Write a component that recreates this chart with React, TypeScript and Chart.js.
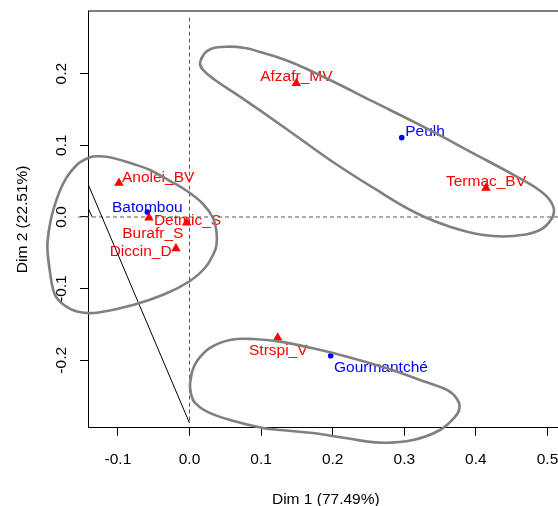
import React, { useEffect, useRef } from "react";
import { Chart, registerables } from "chart.js";
Chart.register(...registerables);

// ---- data (CA biplot, Dim 1 / Dim 2) ----
const speciesNames = ["Afzafr_MV", "Termac_BV", "Anolei_BV", "Burafr_S", "Detmic_S", "Diccin_D", "Strspi_V"];
const speciesDim1 = [0.1492, 0.4141, -0.0985, -0.0566, -0.0039, -0.0189, 0.1232];
const speciesDim2 = [0.1865, 0.0405, 0.0475, -0.0010, -0.0080, -0.0440, -0.1685];

const groupNames = ["Peulh", "Batombou", "Gourmantché"];
const groupDim1 = [0.2964, -0.0589, 0.1972];
const groupDim2 = [0.1107, 0.0070, -0.1936];

const xTickValues = [-0.1, 0.0, 0.1, 0.2, 0.3, 0.4, 0.5];
const yTickValues = [-0.2, -0.1, 0.0, 0.1, 0.2];
const xTitle = "Dim 1 (77.49%)";
const yTitle = "Dim 2 (22.51%)";

// confidence outlines
const outlineWestX = [-0.1985, -0.1967, -0.1902, -0.1763, -0.1575, -0.1390, -0.1250, -0.1068, -0.0789, -0.0552, -0.0272, -0.0035, 0.0189, 0.0328, 0.0377, 0.0377, 0.0335, 0.0216, 0.0007, -0.0342, -0.0789, -0.1292, -0.1571, -0.1753, -0.1878, -0.1948];
const outlineWestY = [-0.0433, -0.0209, 0.0098, 0.0470, 0.0726, 0.0833, 0.0847, 0.0823, 0.0740, 0.0656, 0.0502, 0.0363, 0.0181, -0.0014, -0.0209, -0.0391, -0.0516, -0.0712, -0.0893, -0.1075, -0.1228, -0.1336, -0.1319, -0.1228, -0.1089, -0.0775];

const outlineNorthX = [0.0147, 0.0203, 0.0314, 0.0520, 0.0775, 0.0985, 0.1404, 0.1962, 0.2567, 0.3265, 0.3964, 0.4570, 0.4941, 0.5081, 0.5063, 0.4895, 0.4522, 0.4103, 0.3638, 0.3173, 0.2615, 0.1962, 0.1310, 0.0705, 0.0356, 0.0189];
const outlineNorthY = [0.2149, 0.2275, 0.2352, 0.2377, 0.2359, 0.2303, 0.2167, 0.1912, 0.1609, 0.1260, 0.0889, 0.0562, 0.0331, 0.0144, -0.0014, -0.0181, -0.0265, -0.0251, -0.0135, 0.0052, 0.0377, 0.0796, 0.1260, 0.1679, 0.1912, 0.2052];

const outlineSouthX = [0.0007, 0.0035, 0.0105, 0.0286, 0.0566, 0.0887, 0.1264, 0.1725, 0.2200, 0.2758, 0.3219, 0.3596, 0.3736, 0.3771, 0.3708, 0.3499, 0.3122, 0.2661, 0.2200, 0.1725, 0.1264, 0.1027, 0.0566, 0.0244, 0.0077, 0.0021];
const outlineSouthY = [-0.2345, -0.2163, -0.2010, -0.1828, -0.1717, -0.1703, -0.1740, -0.1833, -0.1950, -0.2112, -0.2275, -0.2414, -0.2540, -0.2666, -0.2791, -0.2973, -0.3112, -0.3150, -0.3089, -0.3015, -0.2973, -0.2945, -0.2833, -0.2717, -0.2596, -0.2470];

// thin black segments
const segmentAX = [-0.1418, 0.0];
const segmentAY = [0.0461, -0.2875];
const segmentBX = [-0.1418, -0.1362];
const segmentBY = [0.0130, 0.0004];

// axis limits
const xMin = -0.14176, xMax = 0.5225;
const yMin = -0.2941, yMax = 0.2875;
const hLineX = [-0.1557, xMax];
const vLineY = [0.2782, -0.2857];

// label placement (style)
const speciesLabelPlace: Record<string, [CanvasTextAlign, number, number]> = {
  Afzafr_MV: ["center", 0, -8],
  Termac_BV: ["center", 0, -7.5],
  Anolei_BV: ["left", 3, -6.5],
  Burafr_S: ["center", 3.8, 14.5],
  Detmic_S: ["center", 0.8, -3],
  Diccin_D: ["right", -4.3, 1.5],
  Strspi_V: ["center", 0.6, 12],
};
const groupLabelPlace: Record<string, [CanvasTextAlign, number, number]> = {
  Peulh: ["left", 3.5, -6.7],
  Batombou: ["center", 0, -5.3],
  "Gourmantché": ["left", 3.3, 11],
};

const FONT = '15.5px "Liberation Sans", Arial, sans-serif';
const RED = "#ff0000";
const BLUE = "#0000ff";

function closedLoop(xs: number[], ys: number[]) {
  const pts = xs.map((x, i) => ({ x, y: ys[i] }));
  const n = pts.length;
  return [pts[n - 1], ...pts, pts[0], pts[1]];
}
function seg(xs: number[], ys: number[]) {
  return xs.map((x, i) => ({ x, y: ys[i] }));
}

const textPlugin = {
  id: "rtext",
  beforeDatasetsDraw(chart: any) {
    const ctx = chart.ctx;
    const xs = chart.scales.x;
    const ys = chart.scales.y;
    ctx.save();
    ctx.font = FONT;
    ctx.textBaseline = "alphabetic";
    speciesNames.forEach((name, i) => {
      const p = speciesLabelPlace[name];
      ctx.fillStyle = RED;
      ctx.textAlign = p[0];
      ctx.fillText(name, xs.getPixelForValue(speciesDim1[i]) + p[1], ys.getPixelForValue(speciesDim2[i]) + p[2] + 5.5);
    });
    groupNames.forEach((name, i) => {
      const p = groupLabelPlace[name];
      ctx.fillStyle = BLUE;
      ctx.textAlign = p[0];
      ctx.fillText(name, xs.getPixelForValue(groupDim1[i]) + p[1], ys.getPixelForValue(groupDim2[i]) + p[2] + 5.5);
    });
    ctx.restore();
  },
  afterDraw(chart: any) {
    const ctx = chart.ctx;
    const area = chart.chartArea;
    const xs = chart.scales.x;
    const ys = chart.scales.y;
    ctx.save();
    // top border
    ctx.strokeStyle = "#000";
    ctx.lineWidth = 1;
    ctx.beginPath();
    ctx.moveTo(area.left, area.top);
    ctx.lineTo(chart.width, area.top);
    ctx.stroke();

    ctx.font = FONT;
    ctx.fillStyle = "#000";
    ctx.textBaseline = "alphabetic";
    ctx.textAlign = "center";
    xTickValues.forEach((v) => {
      ctx.fillText(v.toFixed(1), xs.getPixelForValue(v), area.bottom + 36.1);
    });
    yTickValues.forEach((v) => {
      ctx.save();
      ctx.translate(area.left - 22.5, ys.getPixelForValue(v));
      ctx.rotate(-Math.PI / 2);
      ctx.fillText(v.toFixed(1), 0, 0);
      ctx.restore();
    });
    ctx.fillText(xTitle, (area.left + area.right) / 2, area.bottom + 76.1);
    ctx.save();
    ctx.translate(area.left - 60.8, (area.top + area.bottom) / 2);
    ctx.rotate(-Math.PI / 2);
    ctx.fillText(yTitle, 0, 0);
    ctx.restore();
    ctx.restore();
  },
};

export default function App() {
  const ref = useRef<HTMLCanvasElement>(null);
  useEffect(() => {
    if (!ref.current) return;
    const outlineStyle = {
      showLine: true,
      borderColor: "#808080",
      borderWidth: 2.6,
      pointRadius: 0,
      tension: 0.4,
      clip: false as any,
      fill: false,
    };
    const chart = new Chart(ref.current, {
      type: "scatter",
      data: {
        datasets: [
          { ...outlineStyle, data: closedLoop(outlineWestX, outlineWestY) },
          { ...outlineStyle, data: closedLoop(outlineNorthX, outlineNorthY) },
          { ...outlineStyle, data: closedLoop(outlineSouthX, outlineSouthY) },
          {
            data: speciesDim1.map((x, i) => ({ x, y: speciesDim2[i] })),
            pointStyle: "triangle",
            pointRadius: 5.5,
            pointBackgroundColor: RED,
            pointBorderWidth: 0,
            showLine: false,
          },
          {
            data: groupDim1.map((x, i) => ({ x, y: groupDim2[i] })),
            pointStyle: "circle",
            pointRadius: 2.8,
            pointBackgroundColor: BLUE,
            pointBorderWidth: 0,
            showLine: false,
          },
          { data: seg(segmentAX, segmentAY), showLine: true, borderColor: "#000", borderWidth: 1, pointRadius: 0 },
          { data: seg(segmentBX, segmentBY), showLine: true, borderColor: "#000", borderWidth: 1, pointRadius: 0 },
          {
            data: seg(hLineX, [0, 0]),
            showLine: true,
            borderColor: "#5a5a5a",
            borderWidth: 1,
            borderDash: [4, 3],
            pointRadius: 0,
            clip: false as any,
          },
          {
            data: seg([0, 0], vLineY),
            showLine: true,
            borderColor: "#5a5a5a",
            borderWidth: 1,
            borderDash: [4, 3],
            pointRadius: 0,
          },
        ],
      },
      options: {
        responsive: false,
        maintainAspectRatio: false,
        animation: false,
        events: [],
        elements: { line: { capBezierPoints: false } },
        layout: { padding: { left: 0, top: 11, right: 620 - 563.6, bottom: 0 } },
        plugins: { legend: { display: false }, tooltip: { enabled: false } },
        scales: {
          x: {
            type: "linear",
            position: "bottom",
            min: xMin,
            max: xMax,
            afterBuildTicks: (s: any) => {
              s.ticks = xTickValues.map((v) => ({ value: v }));
            },
            afterFit: (s: any) => {
              s.height = 78.3;
            },
            ticks: { display: false },
            grid: { drawOnChartArea: false, drawTicks: true, tickLength: 8, color: "#000", lineWidth: 1 },
            border: { display: true, color: "#000", width: 1 },
          },
          y: {
            type: "linear",
            position: "left",
            min: yMin,
            max: yMax,
            afterBuildTicks: (s: any) => {
              s.ticks = yTickValues.map((v) => ({ value: v }));
            },
            afterFit: (s: any) => {
              s.width = 88;
            },
            ticks: { display: false },
            grid: { drawOnChartArea: false, drawTicks: true, tickLength: 8, color: "#000", lineWidth: 1 },
            border: { display: true, color: "#000", width: 1 },
          },
        },
      },
      plugins: [textPlugin],
    } as any);
    return () => chart.destroy();
  }, []);
  return (
    <div style={{ position: "fixed", left: 0, top: 0, width: 558, height: 506, overflow: "hidden", background: "#fff" }}>
      <canvas ref={ref} width={620} height={506} style={{ display: "block" }} />
    </div>
  );
}
